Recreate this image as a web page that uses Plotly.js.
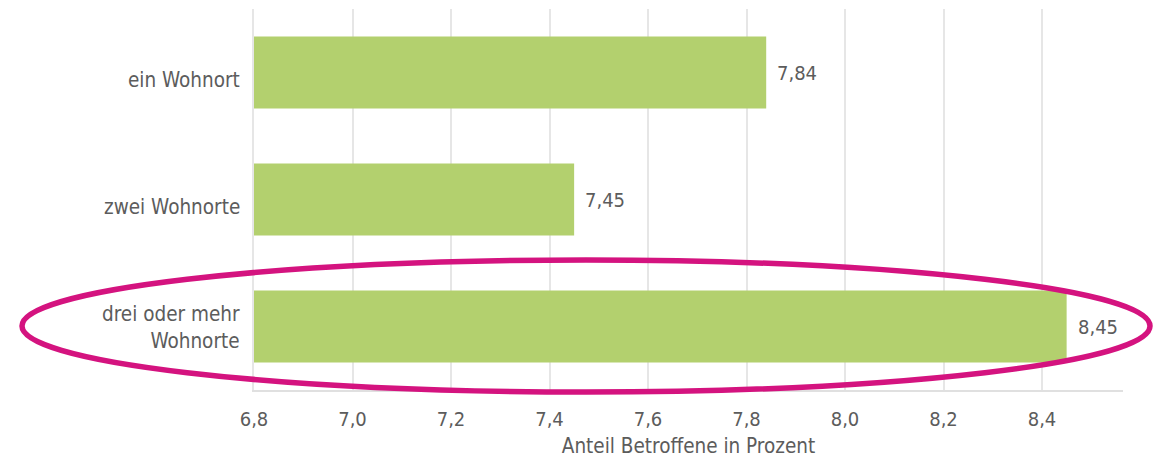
<!DOCTYPE html>
<html><head><meta charset="utf-8">
<script src="https://cdn.plot.ly/plotly-3.0.1.min.js"></script>
<style>html,body{margin:0;padding:0;background:#fff}#chart{width:1153px;height:458px}</style>
</head><body><div id="chart"></div>
<script>
const categories = ["ein Wohnort", "zwei Wohnorte", "drei oder mehr Wohnorte"];
const categoryLabels = ["ein Wohnort", "zwei Wohnorte", "drei oder mehr<br>Wohnorte"];
const values = [7.84, 7.45, 8.45];
const valueLabels = ["7,84", "7,45", "8,45"];
const baseline = 6.8;
const tickVals = [6.8, 7.0, 7.2, 7.4, 7.6, 7.8, 8.0, 8.2, 8.4];
const tickText = ["6,8", "7,0", "7,2", "7,4", "7,6", "7,8", "8,0", "8,2", "8,4"];
const axisTitle = "Anteil Betroffene in Prozent";

const FONT = "DejaVu Sans Condensed, DejaVu Sans, sans-serif";
const TXT = "#5c5c5c";
const W = 1153, H = 458, L = 254, R = 30, T = 9, B = 68;
const pw = W - L - R, ph = H - T - B;
const px = v => (v - L) / pw;
const py = v => (H - B - v) / ph;

const trace = {
  type: "bar", orientation: "h",
  x: values.map(v => v - baseline), base: baseline, y: categories,
  marker: {color: "#b3d06e", line: {width: 0}},
  hoverinfo: "skip"
};

const annotations = [];
categories.forEach((c, i) => {
  const multi = categoryLabels[i].includes("<br>");
  annotations.push({
    xref: "paper", yref: "y", x: 0, y: c, xanchor: "right", yanchor: "middle",
    xshift: -12, yshift: multi ? -1 : -7, align: "right",
    text: categoryLabels[i], showarrow: false,
    font: {family: FONT, size: 20.5, color: TXT}
  });
  annotations.push({
    xref: "x", yref: "y", x: values[i], y: c, xanchor: "left", yanchor: "middle",
    xshift: 9, text: valueLabels[i], showarrow: false,
    font: {family: FONT, size: 20, color: TXT}
  });
});

Plotly.newPlot("chart", [trace], {
  width: W, height: H,
  margin: {l: L, r: R, t: T, b: B},
  paper_bgcolor: "#fff", plot_bgcolor: "#fff",
  bargap: 0.433,
  showlegend: false,
  font: {family: FONT, color: TXT, size: 20},
  xaxis: {
    range: [6.8, 6.8 + 0.2 * pw / 98.5],
    tickvals: tickVals, ticktext: tickText,
    showgrid: true, gridcolor: "#e6e6e6", gridwidth: 2,
    showline: true, linecolor: "#e0e0e0", linewidth: 2,
    zeroline: false, ticks: "", ticklabelstandoff: 10,
    tickfont: {family: FONT, size: 20, color: TXT},
    title: {text: axisTitle, font: {family: FONT, size: 20.5, color: TXT}, standoff: 12}
  },
  yaxis: {
    categoryorder: "array", categoryarray: categories,
    autorange: "reversed",
    showline: true, linecolor: "#e6e6e6", linewidth: 2,
    showgrid: false, zeroline: false, showticklabels: false, ticks: ""
  },
  annotations: annotations,
  shapes: [{
    type: "circle", xref: "paper", yref: "paper",
    x0: px(22), x1: px(1150), y0: py(392), y1: py(260),
    line: {color: "#d4137f", width: 5.5}, layer: "above"
  }]
}, {displayModeBar: false, staticPlot: true});
</script></body></html>
